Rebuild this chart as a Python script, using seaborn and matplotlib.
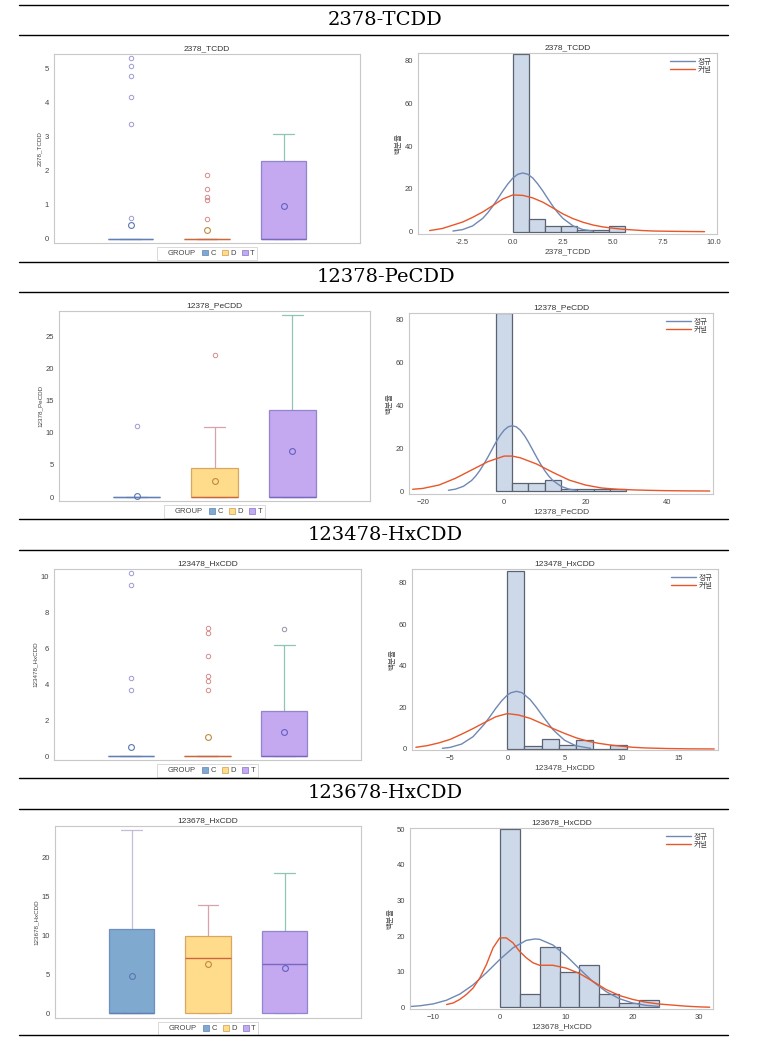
import matplotlib
matplotlib.use("Agg")
import matplotlib.pyplot as plt
from matplotlib.lines import Line2D
from matplotlib.patches import Patch
from matplotlib.ticker import FormatStrFormatter
import seaborn as sns

# ---- data ----
COMPOUNDS = ["2378-TCDD", "12378-PeCDD", "123478-HxCDD", "123678-HxCDD"]
VARS = ["2378_TCDD", "12378_PeCDD", "123478_HxCDD", "123678_HxCDD"]
GROUPS = ["C", "D", "T"]

# box statistics per compound, per group (C, D, T)
BOX_Q1 = [[0, 0, 0], [0, 0, 0], [0, 0, 0], [0, 0, 0]]
BOX_MED = [[0, 0, 0], [0, 0, 0], [0, 0, 0], [0, 7.08, 6.31]]
BOX_Q3 = [[0, 0, 2.28], [0, 4.56, 13.5], [0, 0, 2.54], [10.75, 9.9, 10.5]]
BOX_LO = [[0, 0, 0], [0, 0, 0], [0, 0, 0], [0, 0, 0]]
BOX_HI = [[0, 0, 3.08], [0, 10.9, 28.3], [0, 0, 6.15], [23.5, 13.86, 17.95]]
BOX_MEAN = [[0.41, 0.26, 0.95], [0.16, 2.54, 7.2], [0.5, 1.06, 1.37], [4.82, 6.27, 5.76]]
BOX_OUT = [
    [[0.60, 3.38, 4.17, 4.80, 5.09, 5.31], [0.58, 1.15, 1.22, 1.45, 1.86], []],
    [[11.1], [22.0], []],
    [[3.69, 4.33, 9.48, 10.17], [3.69, 4.2, 4.46, 5.57, 6.83, 7.11], [7.07]],
    [[], [], []],
]
BOX_YLIM = [(-0.13, 5.44), (-0.62, 28.9), (-0.2, 10.39), (-0.6, 24.0)]
BOX_YTICKS = [[0, 1, 2, 3, 4, 5], [0, 5, 10, 15, 20, 25], [0, 2, 4, 6, 8, 10], [0, 5, 10, 15, 20]]

# histogram bins (edges) and percents
HIST_EDGES = [
    [0, 0.8, 1.6, 2.4, 3.2, 4.0, 4.8, 5.6],
    [-2, 2, 6, 10, 14, 18, 22, 26, 30],
    [0, 1.5, 3, 4.5, 6, 7.5, 9, 10.5],
    [0, 3, 6, 9, 12, 15, 18, 21, 24],
]
HIST_PCT = [
    [83.3, 5.8, 2.5, 2.5, 0.8, 0.8, 2.5],
    [83.1, 3.9, 3.9, 5.0, 0.9, 0.9, 0.9, 0.9],
    [85.7, 1.4, 5.0, 1.8, 4.2, 0.0, 1.8],
    [50.0, 3.8, 16.8, 10.0, 12.0, 3.8, 1.1, 2.0],
]

# normal curves (정규)
NORM_X = [
    [-2.98, -2.5, -2, -1.5, -1.25, -1, -0.75, -0.5, -0.25, 0, 0.25, 0.5, 0.75, 1, 1.25, 1.5,
     1.75, 2, 2.25, 2.5, 3, 3.5, 3.98],
    [-13.7, -12, -10, -8, -7, -6, -5, -4, -3, -2, -1, 0, 1, 2, 3, 4, 5, 6, 7, 8, 9, 10, 11,
     12, 14, 16, 17.7],
    [-5.68, -5, -4, -3, -2, -1.5, -1, -0.5, 0, 0.3, 0.8, 1.3, 2, 2.5, 3, 4, 5, 6, 7.28],
    [-13.4, -12, -10, -8, -6, -4, -2, 0, 2, 4, 5.3, 6, 8, 10, 12, 14, 16, 18, 20, 22, 24],
]
NORM_Y = [
    [0.29, 0.96, 2.7, 6.2, 8.8, 11.9, 15.4, 19.0, 22.3, 25.1, 26.9, 27.5, 26.9, 25.1, 22.3,
     19.0, 15.4, 11.9, 8.8, 6.2, 2.7, 0.96, 0.29],
    [0.34, 0.85, 2.2, 4.9, 6.95, 9.5, 12.5, 15.8, 19.3, 22.8, 25.9, 28.4, 29.95, 30.5, 29.95,
     28.4, 25.9, 22.8, 19.3, 15.8, 12.5, 9.5, 6.95, 4.9, 2.2, 0.85, 0.34],
    [0.31, 0.76, 2.35, 5.9, 12.0, 15.7, 19.6, 23.1, 25.9, 27.0, 27.7, 27.0, 23.7, 20.3, 16.5,
     9.25, 4.2, 1.52, 0.31],
    [0.21, 0.41, 0.94, 1.97, 3.7, 6.3, 9.7, 13.4, 16.7, 18.8, 19.2, 19.1, 17.5, 14.5, 10.8,
     7.25, 4.4, 2.4, 1.19, 0.53, 0.21],
]

# kernel curves (커널)
KERN_X = [
    [-4.14, -3.5, -3, -2.5, -2, -1.5, -1, -0.5, 0, 0.5, 1, 1.5, 2, 2.5, 3, 3.5, 4, 4.5, 5,
     5.5, 6, 6.5, 7, 8, 9, 9.55],
    [-22.5, -20, -16, -12, -8, -4, 0, 2, 4, 8, 12, 16, 20, 24, 28, 32, 36, 40, 45, 50.6],
    [-8, -7, -6, -5, -4, -3, -2, -1, 0, 1, 2, 3, 4, 5, 6, 7, 8, 9, 10, 11, 12, 14, 16, 18.1],
    [-8, -7, -6, -5, -4, -3, -2, -1, 0, 1, 2, 3, 4, 5, 6, 8, 10, 12, 14, 16, 18, 20, 22,
     24, 26, 28, 30, 31.6],
]
KERN_Y = [
    [0.5, 1.5, 3.0, 4.5, 6.7, 9.2, 12.2, 15.3, 17.2, 17.0, 15.8, 13.8, 11.1, 8.3, 6.1, 4.4,
     3.1, 2.2, 1.6, 1.1, 0.8, 0.5, 0.3, 0.15, 0.05, 0.0],
    [0.8, 1.2, 2.8, 5.9, 9.8, 13.7, 16.3, 16.3, 15.5, 12.6, 8.7, 5.1, 2.8, 1.4, 0.8, 0.5,
     0.3, 0.15, 0.05, 0.0],
    [0.8, 1.6, 2.9, 4.6, 7.1, 9.8, 12.7, 15.5, 17.0, 16.3, 14.7, 12.3, 9.8, 7.5, 5.4, 3.8,
     2.7, 1.9, 1.3, 0.8, 0.5, 0.2, 0.05, 0.0],
    [0.75, 1.2, 2.2, 3.6, 5.4, 8.2, 12.0, 16.7, 19.5, 19.5, 18.1, 15.7, 13.9, 12.5, 11.8,
     11.8, 11.0, 9.5, 7.3, 5.0, 3.3, 2.2, 1.4, 0.9, 0.6, 0.3, 0.1, 0.0],
]
HIST_XLIM = [(-4.72, 10.17), (-23.4, 51.4), (-8.34, 18.43), (-13.5, 32.1)]
HIST_YLIM = [(-1.1, 83.75), (-1.4, 83.1), (-0.5, 86.5), (-0.5, 50.4)]
HIST_XTICKS = [[-2.5, 0, 2.5, 5, 7.5, 10], [-20, 0, 20, 40], [-5, 0, 5, 10, 15], [-10, 0, 10, 20, 30]]
HIST_YTICKS = [[0, 20, 40, 60, 80], [0, 20, 40, 60, 80], [0, 20, 40, 60, 80], [0, 10, 20, 30, 40, 50]]

# ---- styling ----
W, H = 771, 1048
BOX_FILL = ["#7fa9cf", "#ffdb8c", "#c4a8f0"]
BOX_EDGE = ["#6f8fc0", "#d8a860", "#8f86d0"]
MED_COL = ["#5f7fb5", "#c8683f", "#7a68c0"]
WHISK_COL = ["#c6bcd8", "#d8a2aa", "#8ec6b2"]
FLIER_COL = ["#9c9cd0", "#d48c8c", "#9494a8"]
MEAN_COL = ["#5a76b0", "#c08a40", "#6262c0"]
FRAME = "#c8c8c8"
TXT = "#444444"

sns.set_theme(style="white")
plt.rcParams["font.family"] = ["Liberation Sans", "Noto Sans CJK KR", "DejaVu Sans"]

BOX_RECTS = [(54, 54, 360, 243), (59, 311, 370, 501), (54, 569, 361, 760), (55, 826, 361, 1018)]
HIST_RECTS = [(418, 53, 717, 234), (409, 313, 713, 494), (412, 569, 718, 750), (410, 828, 713, 1009)]
RULES_Y = [5, 35, 262, 292, 519, 550, 778, 809, 1035]
TITLE_Y = [20, 277, 535, 793]


def add_axes(fig, rect):
    x0, y0, x1, y1 = rect
    return fig.add_axes([x0 / W, 1 - y1 / H, (x1 - x0) / W, (y1 - y0) / H])


def style_axes(ax):
    for s in ax.spines.values():
        s.set_color(FRAME)
        s.set_linewidth(0.8)
    ax.tick_params(axis="both", which="both", length=2, width=0.5, color="#999999",
                   labelsize=5.5, labelcolor=TXT, pad=1.5)


fig = plt.figure(figsize=(W / 100, H / 100), dpi=100)

for y in RULES_Y:
    fig.add_artist(Line2D([19 / W, 728 / W], [1 - y / H, 1 - y / H], transform=fig.transFigure,
                          color="black", lw=1.0))

for i, name in enumerate(COMPOUNDS):
    fig.text(0.5, 1 - TITLE_Y[i] / H, name, ha="center", va="center", fontsize=14,
             family=["DejaVu Serif"], color="black")

    # box plot
    ax = add_axes(fig, BOX_RECTS[i])
    stats = []
    for g in range(3):
        stats.append(dict(q1=BOX_Q1[i][g], med=BOX_MED[i][g], q3=BOX_Q3[i][g],
                          whislo=BOX_LO[i][g], whishi=BOX_HI[i][g], mean=BOX_MEAN[i][g],
                          fliers=BOX_OUT[i][g], label=GROUPS[g]))
    art = ax.bxp(stats, positions=[0, 1, 2], widths=0.6, capwidths=0.27, patch_artist=True,
                 showmeans=True, showfliers=True, manage_ticks=False)
    for g in range(3):
        art["boxes"][g].set(facecolor=BOX_FILL[g], edgecolor=BOX_EDGE[g], linewidth=0.9, zorder=3)
        for k in (2 * g, 2 * g + 1):
            art["whiskers"][k].set(color=WHISK_COL[g], linewidth=0.9, zorder=2)
            art["caps"][k].set(color=WHISK_COL[g], linewidth=0.9, zorder=2)
        art["medians"][g].set(color=MED_COL[g], linewidth=1.0, zorder=4)
        art["means"][g].set(marker="o", markerfacecolor="none", markeredgecolor=MEAN_COL[g],
                            markersize=4.2, markeredgewidth=0.8, zorder=5)
        art["fliers"][g].set(marker="o", markerfacecolor="none", markeredgecolor=FLIER_COL[g],
                             markersize=3.2, markeredgewidth=0.7, zorder=5)
    ax.set_xlim(-1, 3)
    ax.set_ylim(*BOX_YLIM[i])
    ax.set_yticks(BOX_YTICKS[i])
    ax.set_xticks([])
    ax.set_ylabel(VARS[i], fontsize=4.5, color=TXT, labelpad=2)
    ax.set_title(VARS[i], fontsize=6, color="#333333", pad=3)
    style_axes(ax)
    handles = [Patch(facecolor="none", edgecolor="none")] + \
              [Patch(facecolor=BOX_FILL[g], edgecolor=BOX_EDGE[g], linewidth=0.6) for g in range(3)]
    labels = ["GROUP"] + GROUPS
    leg = ax.legend(handles, labels, ncol=4, loc="upper center", bbox_to_anchor=(0.5, -0.015),
                    fontsize=5.5, frameon=True, fancybox=False, edgecolor=FRAME,
                    handlelength=0.8, handleheight=0.8, handletextpad=0.3, columnspacing=0.8,
                    borderpad=0.3, borderaxespad=0.2)
    leg.get_frame().set_linewidth(0.6)
    for t in leg.get_texts():
        t.set_color(TXT)

    # histogram with normal and kernel curves
    hx = add_axes(fig, HIST_RECTS[i])
    edges = HIST_EDGES[i]
    mids = [(a + b) / 2 for a, b in zip(edges[:-1], edges[1:])]
    sns.histplot(x=mids, weights=HIST_PCT[i], bins=edges, ax=hx, color="#cdd8e8",
                 edgecolor="#5b6372", linewidth=0.9, alpha=1.0)
    sns.lineplot(x=NORM_X[i], y=NORM_Y[i], ax=hx, color="#6f88b4", linewidth=1.0, label="정규")
    sns.lineplot(x=KERN_X[i], y=KERN_Y[i], ax=hx, color="#e8562a", linewidth=1.0, label="커널")
    hx.set_xlim(*HIST_XLIM[i])
    hx.set_ylim(*HIST_YLIM[i])
    hx.set_xticks(HIST_XTICKS[i])
    hx.set_yticks(HIST_YTICKS[i])
    if i == 0:
        hx.xaxis.set_major_formatter(FormatStrFormatter("%.1f"))
    hx.set_xlabel(VARS[i], fontsize=6, color=TXT, labelpad=2)
    hx.set_ylabel("백분율", fontsize=5.5, color=TXT, labelpad=2)
    hx.set_title(VARS[i], fontsize=6, color="#333333", pad=3)
    style_axes(hx)
    lg = hx.legend(loc="upper right", fontsize=5.5, frameon=False, handlelength=3.2,
                   handletextpad=0.4, borderaxespad=0.3, labelspacing=0.1)
    for t in lg.get_texts():
        t.set_color(TXT)

fig.savefig("out.png", dpi=100)
